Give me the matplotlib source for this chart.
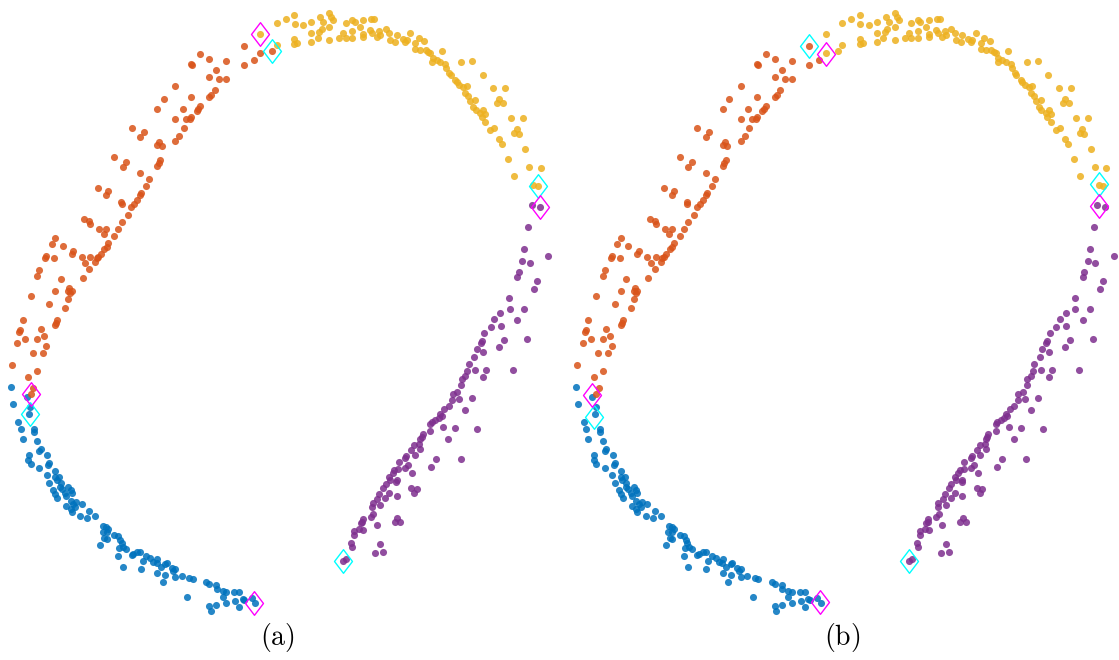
import numpy as np
import matplotlib
matplotlib.use("Agg")
import matplotlib.pyplot as plt
from matplotlib.path import Path

blue_x = [10.7, 26.7, 12.7, 30, 29.3, 18.3, 20.7, 34, 34, 22.7, 37.3, 40.7, 39.3, 28.7, 28.3, 30.7, 47.3, 49.3, 48.3,
          39.3, 55.3, 46.7, 55.3, 59.3, 56.7, 49.3, 60.7, 60, 62, 68.3, 70.7, 71.7, 53.3, 55, 65, 66, 57.3, 70.7, 76,
          73.3, 81.7, 66, 70.7, 75, 71.7, 89.3, 80, 95, 87.3, 103.3, 106, 108.3, 102.7, 106.7, 104, 106.7, 100, 114,
          118.3, 120, 121.7, 123.3, 126, 119.3, 118.3, 122.7, 131.7, 133.3, 137.3, 140, 142.7, 146, 150, 153.3, 157.3,
          156.7, 160.7, 165, 166.7, 140.7, 157.3, 165, 162.7, 171.7, 175, 173.3, 175, 181.7, 189.3, 192.7, 187.3, 206,
          209.3, 216, 216.7, 222.7, 226, 234, 239.3, 222.7, 226, 216, 209.3, 210.7, 235, 242.7, 244, 239.3, 251.7, 255]
blue_y = [386.7, 396.7, 404.3, 406.7, 414.3, 422.3, 429, 429, 432.3, 439, 441, 449, 451.3, 455.3, 460, 464.3, 455.3,
          463.3, 465, 467.7, 470.7, 475.3, 477.3, 477.3, 480, 483.3, 483.3, 486.7, 488.7, 487.3, 490, 492.7, 490, 494,
          493.3, 496, 498.3, 500.7, 501.7, 504, 504, 506, 508.7, 507.3, 511.7, 510.7, 515.7, 516, 518.3, 526, 526.7,
          529.3, 531.7, 531.7, 538.3, 539.3, 545, 535, 536, 540, 543.3, 546.7, 549, 547.7, 556, 567.3, 555, 554, 551.7,
          552.3, 560.7, 556, 558.3, 561.7, 559.3, 563.3, 566.7, 564, 563.3, 569.3, 572.7, 575.3, 581.7, 568.3, 569.3,
          570.7, 576.7, 576, 578.3, 579.3, 596.7, 582.3, 584, 585, 589.3, 590.7, 591.7, 591.7, 591.7, 597.3, 602.7,
          605.3, 606, 610.7, 600.7, 599.3, 600, 607.3, 598.3, 603.3]

orange_x = [243.7, 253.7, 243.7, 226, 200.3, 209.3, 191.3, 192.3, 216, 209, 219, 226, 175, 214.7, 211.3, 209, 191.3,
            163.7, 157, 182.7, 200, 198.3, 196.7, 175, 186, 191.3, 190, 183.7, 179.3, 175, 159, 157, 161.7,
            131.7, 143.7, 140.3, 114, 126, 122.7, 160, 158.7, 157.3, 140.3, 149.3, 146, 141.3, 140, 98.3, 108.3, 106,
            121, 121.7, 137.3, 134, 131.3, 128.3, 84, 89.3, 90, 122.3, 99.3, 106, 103.7, 118.3, 114, 108.3, 106.7, 104,
            100.7, 98.3, 96.7, 90, 81.7, 62.7, 73.3, 71.7, 95, 85, 89.3, 55, 51.7, 46, 45, 54, 39.3, 37.3, 60.7, 82.7,
            30.7, 55, 69.3, 71.7, 68.3, 70, 68.3, 49.3, 65, 22.7, 57.3, 56, 55, 20, 19.3, 40.7, 25, 37.3, 44, 17.3, 46,
            32.7, 42.7, 11.7, 37.3, 28.3, 33.3, 30.7]
orange_y = [46.3, 59.7, 65, 60.7, 54, 58.7, 64, 65.3, 69.7, 77.3, 79.3, 79.3, 86, 90.3, 94.7, 96.7, 97.3, 99.3, 109.3,
            109.3, 106, 109.3, 111, 119.3, 119, 117, 119.3, 128.3, 136, 140.7, 141.7, 145, 146,
            128.3, 131.7, 137.3, 157.3, 161.7, 166.7, 160, 163.3, 166, 172.7, 179.3, 186, 192.7, 195, 188.3, 191,
            195.3, 201.7, 204, 200, 204.3, 207.3, 215, 219, 220.7, 224, 222, 229, 229, 234, 229, 236, 243.3, 246.7,
            249.3, 254, 256.7, 258.3, 257.3, 257.3, 245.7, 251, 254.3, 261.7, 263.3, 269.3, 238, 243.7, 256, 258.3,
            258.3, 270, 275.7, 279.3, 278, 295.7, 291, 288.3, 290.7, 290.7, 293.3, 299.3, 304.3, 308, 320, 320, 322.7,
            325, 330, 331.7, 329, 338.7, 338.7, 335.7, 343.3, 345.7, 353.3, 353.3, 365.3, 370.7, 376.7, 387.7, 394]

# two points at the orange/yellow border: orange in (a), yellow in (b)
border_x = [260, 272.3]
border_y = [52.7, 50.7]

yellow_x = [276.7, 285.7, 294.3, 294.7, 276.7, 294.3, 294, 297, 260, 303.3, 311.3, 320, 323.3, 329, 331, 333.3, 329,
            321.7, 319.3, 311.3, 311.3, 317.7, 329, 339, 343.3, 345.7, 352.3, 352.3, 345.7, 352.3, 354.7, 360, 363.3,
            363.3, 363.3, 371, 374.3, 370, 372.3, 379, 376.7, 380, 385.7, 389.3, 396.7, 390, 395, 402.7, 405, 410,
            406.7, 415, 418.7, 424.3, 415, 420, 425.7, 428.3, 430, 432.7, 436.7, 432, 442, 440, 445, 446, 449.3, 450.7,
            461, 472, 482.7, 455, 456.7, 459.3, 463.3, 466.7, 465, 468.3, 470, 475.3, 473.3, 475.7, 480, 483.3, 485.3,
            481.7, 485.3, 490, 494, 493, 505.3, 499.3, 497.3, 503.3, 510.7, 522.7, 516.7, 514, 518.7, 499.3, 502, 525,
            508.3, 529.3, 540.7, 514, 533.3, 537.7]
yellow_y = [23, 18.7, 14.7, 24, 45, 38.7, 44, 43, 34, 25, 22, 17.3, 22.3, 13.3, 17.3, 20, 27.3, 29.3, 31.7, 33, 42,
            38.3, 39.7, 38.3, 33, 38.3, 38.3, 30.7, 23.3, 20, 22, 27.3, 20, 34, 36.7, 18.7, 18.7, 30, 33, 30.7, 36.7,
            35, 28.7, 33, 35, 40, 41.7, 39.3, 41.7, 33, 40, 42.7, 38.3, 40.7, 49.3, 50, 50, 51.7, 53.3, 58.3, 60, 62.3,
            50.7, 61.7, 64, 68.3, 72.7, 75, 62, 60.7, 74.7, 80, 82.3, 85, 86.7, 86, 93.3, 96, 101, 99.7, 107.3, 110,
            113.3, 110, 114.3, 117.3, 122.3, 130, 128.3, 88.3, 88.3, 99.3, 102.7, 102.7, 118.3, 118.3, 129.3, 132.7,
            134, 139.3, 144, 149.3, 159.3, 167.3, 168, 176, 185, 186]

purple_x = [531.7, 539.7, 528.3, 524, 548.3, 522, 529.7, 518.7, 517.3, 537, 534, 509, 509.7, 524, 517.3, 500, 494.3,
            500.7, 490.7, 484.3, 481.7, 480.7, 504.3, 499.3, 527.3, 476.7, 483, 474, 468.7, 467.3, 475.3, 486.3, 513,
            465, 483, 461.7, 461, 457.3, 452.7, 452, 459.3, 472, 448.7, 444.3, 465, 440, 441.7, 438.7, 435, 431.7, 430,
            443, 455, 477.3, 430, 422.7, 421.7, 420, 448.3, 414, 419.3, 420, 411, 414.7, 406, 405, 398.7, 408, 405.3,
            436.3, 460.7, 431, 394, 398.3, 392.7, 412, 389, 390, 396.7, 396, 385.7, 383.3, 411, 416.7, 414.3, 389,
            385.3, 379.3, 396.7, 377, 372.7, 372, 380, 373.3, 370.7, 362.7, 362, 360.7, 397.3, 394.7, 400, 359.3,
            363.3, 376.7, 354, 354.3, 351, 352.3, 380, 375.3, 383.3, 343.3, 346]
purple_y = [204.7, 207, 227, 249.3, 255.7, 261.3, 263.3, 272.3, 277, 281.3, 289.3, 298.3, 309, 309, 320, 312.7, 319,
            325.7, 327, 333.3, 341.3, 343.3, 340, 346.7, 339, 349, 352.3, 356.7, 364.3, 371, 370, 370, 370, 375.7,
            377.3, 379, 385, 392.3, 394.3, 400, 399, 397.7, 405.7, 409, 410, 414, 415.7, 418.3, 420, 422.3, 424, 426.7,
            427.7, 429, 431, 434, 436.7, 439, 439, 445, 444, 449, 450, 455.3, 456, 458.3, 462, 465.3, 467.7, 458.7,
            458.7, 466.7, 470, 468.7, 473.3, 473.3, 476.7, 480, 480, 482, 484, 488.3, 488.3, 489.3, 493.3, 493.3,
            497.7, 494, 496.3, 499, 503.3, 507.3, 505.3, 514, 516.7, 519, 521.7, 523.3, 518.3, 522.3, 522.3, 528.7,
            529.7, 525.3, 530.7, 535.3, 542.7, 546.7, 544, 553, 551.7, 561, 558.7]

# highlighted points (diamonds) per panel
cyan_a_x = [272.3, 537.7, 29.7, 343.3]
cyan_a_y = [50.7, 185.7, 414.3, 560.7]
magenta_a_x = [260, 539.7, 30.7, 254.3]
magenta_a_y = [34, 207, 394.3, 602.7]
cyan_b_x = [243.7, 533, 28.5, 343.3]
cyan_b_y = [46.3, 184.3, 416.5, 560.7]
magenta_b_x = [260.3, 533, 26.5, 254.5]
magenta_b_y = [54, 206, 395, 602]

panel_labels = ['(a)', '(b)']

c_blue, c_orange, c_yellow, c_purple = '#0072BD', '#D95319', '#EDB120', '#7E2F8E'

diamond = Path([(0, 1), (0.76, 0), (0, -1), (-0.76, 0), (0, 1)],
               [Path.MOVETO, Path.LINETO, Path.LINETO, Path.LINETO, Path.CLOSEPOLY])

plt.rcParams['mathtext.fontset'] = 'cm'
fig = plt.figure(figsize=(11.19, 6.6), dpi=100)

W, H = 1119, 660
lefts = [0, 565.5]
label_x = [277, 842]
diamonds = [(cyan_a_x, cyan_a_y, magenta_a_x, magenta_a_y),
            (cyan_b_x, cyan_b_y, magenta_b_x, magenta_b_y)]
border_colors = [c_orange, c_yellow]

for k in range(2):
    ax = fig.add_axes([lefts[k] / W, (H - 630) / H, 560 / W, 630 / H])
    ax.set_xlim(0, 560)
    ax.set_ylim(630, 0)
    ax.axis('off')

    s = 26
    ax.scatter(blue_x, blue_y, s=s, color=c_blue, alpha=0.85, linewidths=0)
    ax.scatter(orange_x, orange_y, s=s, color=c_orange, alpha=0.85, linewidths=0)
    ax.scatter(border_x, border_y, s=s, color=border_colors[k], alpha=0.85, linewidths=0)
    ax.scatter(yellow_x, yellow_y, s=s, color=c_yellow, alpha=0.85, linewidths=0)
    ax.scatter(purple_x, purple_y, s=s, color=c_purple, alpha=0.85, linewidths=0)

    cx, cy, mx, my = diamonds[k]
    ax.plot(cx, cy, linestyle='none', marker=diamond, markersize=17, mfc='none', mec='cyan', mew=1)
    ax.plot(mx, my, linestyle='none', marker=diamond, markersize=17, mfc='none', mec='magenta', mew=1)

    fig.text(label_x[k] / W, 1 - 638 / H, r'$\mathrm{%s}$' % panel_labels[k],
             ha='center', va='center', fontsize=20)

fig.savefig('out.png', dpi=100)
